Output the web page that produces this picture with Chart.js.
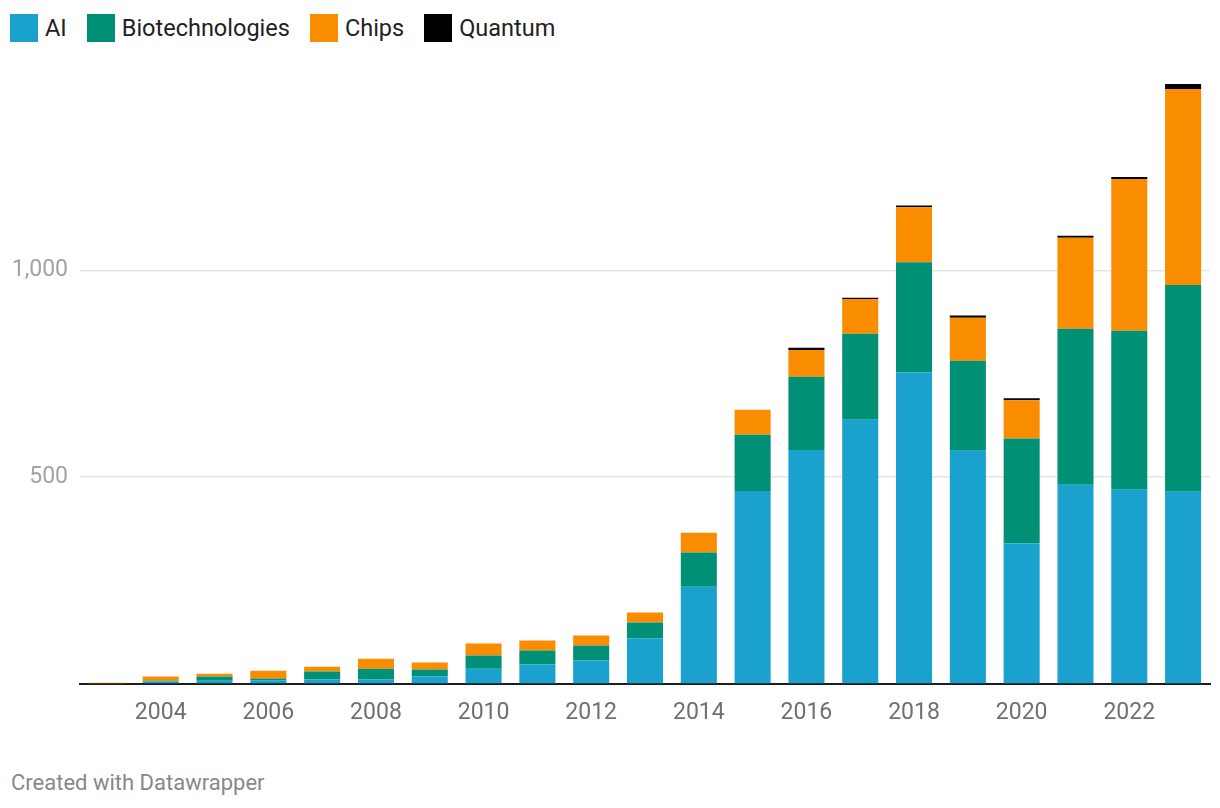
<!DOCTYPE html>
<html>
<head>
<meta charset="utf-8">
<script src="https://cdn.jsdelivr.net/npm/chart.js@4.4.1/dist/chart.umd.min.js"></script>
<style>
  html, body { margin: 0; padding: 0; background: #fff; }
  body { width: 1220px; height: 808px; position: relative; overflow: hidden; font-family: Roboto, sans-serif; }
  #legend { position: absolute; left: 10px; top: 14px; display: flex; align-items: center; height: 28px; }
  .item { display: flex; align-items: center; margin-right: 20px; font-size: 23.5px; color: #222; }
  .swatch { width: 28px; height: 28px; margin-right: 7px; }
  #wrap { position: absolute; left: 0; top: 0; width: 1220px; height: 740px; }
  #footer { position: absolute; left: 11px; top: 772px; font-size: 22px; line-height: 22px; color: #888; }
</style>
</head>
<body>
<div id="legend"></div>
<div id="wrap"><canvas id="chart" width="1220" height="740"></canvas></div>
<div id="footer">Created with Datawrapper</div>
<script>
const years = [2003, 2004, 2005, 2006, 2007, 2008, 2009, 2010, 2011, 2012, 2013,
  2014, 2015, 2016, 2017, 2018, 2019, 2020, 2021, 2022, 2023]

const ai = [0, 6, 8, 9, 11, 11, 18, 37, 47, 57, 110, 235, 467, 566, 639, 754, 564, 340, 482, 470, 465]
const bio = [0, 2, 10, 4, 19, 26, 17, 32, 34, 36, 39, 83, 136, 177, 208, 266, 218, 254, 377, 384, 500]
const chips = [3, 10, 7, 19, 12, 24, 17, 29, 24, 24, 24, 48, 60, 65, 84, 133, 104, 92, 220, 367, 474]
const quantum = [0, 0, 0, 0, 0, 0, 0, 0, 0, 0, 0, 0, 0, 5, 3, 4, 5, 5, 5, 5, 12]

const seriesNames = ['AI', 'Biotechnologies', 'Chips', 'Quantum']
const seriesColors = ['#1aa1cd', '#009075', '#fa8c00', '#000000']
const seriesData = [ai, bio, chips, quantum]

const yTicks = [0, 500, 1000]
const yMax = 1451

// legend as html, same look as the datawrapper one
const legend = document.getElementById('legend')
seriesNames.forEach((name, i) => {
  const item = document.createElement('div')
  item.className = 'item'
  item.innerHTML = '<span class="swatch" style="background:' + seriesColors[i] + '"></span>' + name
  legend.appendChild(item)
})

new Chart(document.getElementById('chart'), {
  type: 'bar',
  data: {
    labels: years,
    datasets: seriesNames.map((name, i) => ({
      label: name,
      data: seriesData[i],
      backgroundColor: seriesColors[i],
      borderWidth: 0,
      barPercentage: 0.67,
      categoryPercentage: 1
    }))
  },
  options: {
    responsive: false,
    devicePixelRatio: 1,
    animation: false,
    layout: { padding: { top: 84, right: 10, left: 0, bottom: 0 } },
    plugins: {
      legend: { display: false },
      tooltip: { enabled: false }
    },
    scales: {
      x: {
        stacked: true,
        grid: { display: false, drawTicks: false },
        border: { display: true, color: '#1d1d1d', width: 2 },
        ticks: {
          autoSkip: false,
          maxRotation: 0,
          padding: 15,
          color: '#707070',
          font: { family: 'Roboto', size: 23 },
          callback: (val, idx) => (years[idx] % 2 === 0 ? String(years[idx]) : '')
        },
        afterFit: (scale) => { scale.height = 56 }
      },
      y: {
        stacked: true,
        min: 0,
        max: yMax,
        border: { display: false },
        grid: {
          drawTicks: false,
          color: (ctx) => (ctx.tick && ctx.tick.value > 0 ? '#e6e6e6' : 'rgba(0,0,0,0)'),
          lineWidth: 1.5
        },
        ticks: {
          padding: 12,
          color: '#a3a3a3',
          font: { family: 'Roboto', size: 23 },
          callback: (val) => (val === 0 ? '' : val.toLocaleString('en-US'))
        },
        afterBuildTicks: (scale) => { scale.ticks = yTicks.map(v => ({ value: v })) },
        afterFit: (scale) => { scale.width = 80 }
      }
    }
  }
})
</script>
</body>
</html>
